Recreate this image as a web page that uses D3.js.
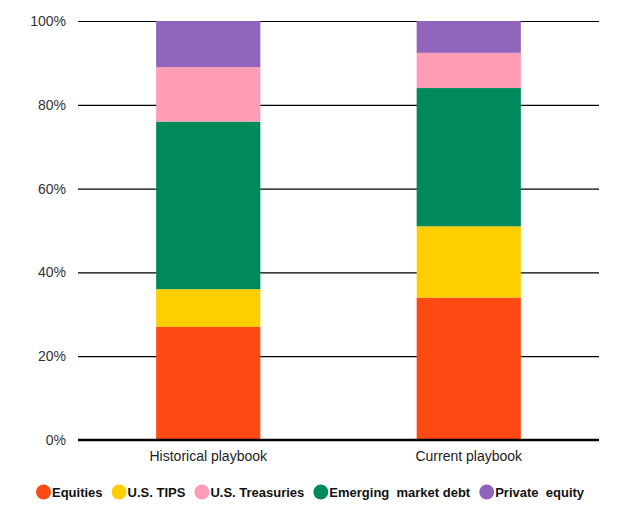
<!DOCTYPE html>
<html>
<head>
<meta charset="utf-8">
<script src="https://cdn.jsdelivr.net/npm/d3@7"></script>
<style>
  body { margin: 0; background: #fff; }
  text { font-family: "Liberation Sans", Arial, sans-serif; }
</style>
</head>
<body>
<div id="chart-container"></div>
<script>
// Data
const categories = ["Historical playbook", "Current playbook"];
const seriesNames = ["Equities", "U.S. TIPS", "U.S. Treasuries", "Emerging  market debt", "Private  equity"];
const equities = [27, 34];
const tips = [9, 17];
const treasuries = [13, 8.4];
const emDebt = [40, 33];
const privateEquity = [11, 7.6];
const yTicks = [0, 20, 40, 60, 80, 100];
const colors = ["#ff4a14", "#ffce00", "#ff9cb6", "#008a5c", "#9164bc"];

function createStackedChart(selector) {
    const width = 620;
    const height = 520;
    const margin = { top: 21, right: 21, bottom: 80, left: 78 };

    const rows = categories.map((c, i) => ({
        category: c,
        s0: equities[i],
        s1: tips[i],
        s2: treasuries[i],
        s3: emDebt[i],
        s4: privateEquity[i]
    }));
    // stacking order bottom-up: equities, TIPS, EM debt, treasuries, PE
    const keys = ["s0", "s1", "s3", "s2", "s4"];
    const stacked = d3.stack().keys(keys)(rows);

    const xScale = d3.scaleBand()
        .domain(categories)
        .range([margin.left, width - margin.right])
        .paddingInner(0.6)
        .paddingOuter(0.3);

    const yScale = d3.scaleLinear()
        .domain([0, 100])
        .range([height - margin.bottom, margin.top]);

    const svg = d3.select(selector)
        .append("svg")
        .attr("width", width)
        .attr("height", height);

    // Gridlines + y labels
    const yAxis = g => g
        .attr("transform", `translate(${margin.left},0)`)
        .call(d3.axisLeft(yScale)
            .tickValues(yTicks)
            .tickSize(-(width - margin.left - margin.right))
            .tickPadding(12)
            .tickFormat(d => d + "%"))
        .call(g => g.select(".domain").remove())
        .call(g => g.selectAll(".tick line").attr("stroke", "#000").attr("stroke-width", 1.2))
        .call(g => g.selectAll(".tick text")
            .attr("fill", "#333")
            .style("font-family", "'Liberation Sans', Arial, sans-serif")
            .style("font-size", "14px"));
    svg.append("g").call(yAxis);

    // Bars
    svg.append("g")
        .selectAll("g")
        .data(stacked)
        .join("g")
        .attr("fill", d => colors[+d.key.slice(1)])
        .selectAll("rect")
        .data(d => d)
        .join("rect")
        .attr("x", d => xScale(d.data.category))
        .attr("y", d => yScale(d[1]))
        .attr("height", d => yScale(d[0]) - yScale(d[1]))
        .attr("width", xScale.bandwidth());

    // Baseline
    svg.append("line")
        .attr("x1", margin.left)
        .attr("x2", width - margin.right)
        .attr("y1", yScale(0))
        .attr("y2", yScale(0))
        .attr("stroke", "#000")
        .attr("stroke-width", 2.5);

    // X axis labels
    const xAxis = g => g
        .attr("transform", `translate(0,${yScale(0)})`)
        .call(d3.axisBottom(xScale).tickSize(0).tickPadding(11))
        .call(g => g.select(".domain").remove())
        .call(g => g.selectAll(".tick text")
            .attr("fill", "#222")
            .style("font-family", "'Liberation Sans', Arial, sans-serif")
            .style("font-size", "14px"));
    svg.append("g").call(xAxis);

    // Legend
    const legend = svg.append("g").attr("transform", "translate(36,492)");
    let x = 0;
    seriesNames.forEach((name, i) => {
        legend.append("circle")
            .attr("cx", x + 7.5)
            .attr("cy", 0)
            .attr("r", 7.5)
            .attr("fill", colors[i]);
        const t = legend.append("text")
            .attr("x", x + 16)
            .attr("y", 0)
            .attr("dy", "0.36em")
            .attr("font-weight", "bold")
            .attr("font-size", "13px")
            .attr("fill", "#111")
            .attr("xml:space", "preserve")
            .style("white-space", "pre")
            .text(name);
        x += 16 + t.node().getComputedTextLength() + 9;
    });
}

createStackedChart("#chart-container");
</script>
</body>
</html>
